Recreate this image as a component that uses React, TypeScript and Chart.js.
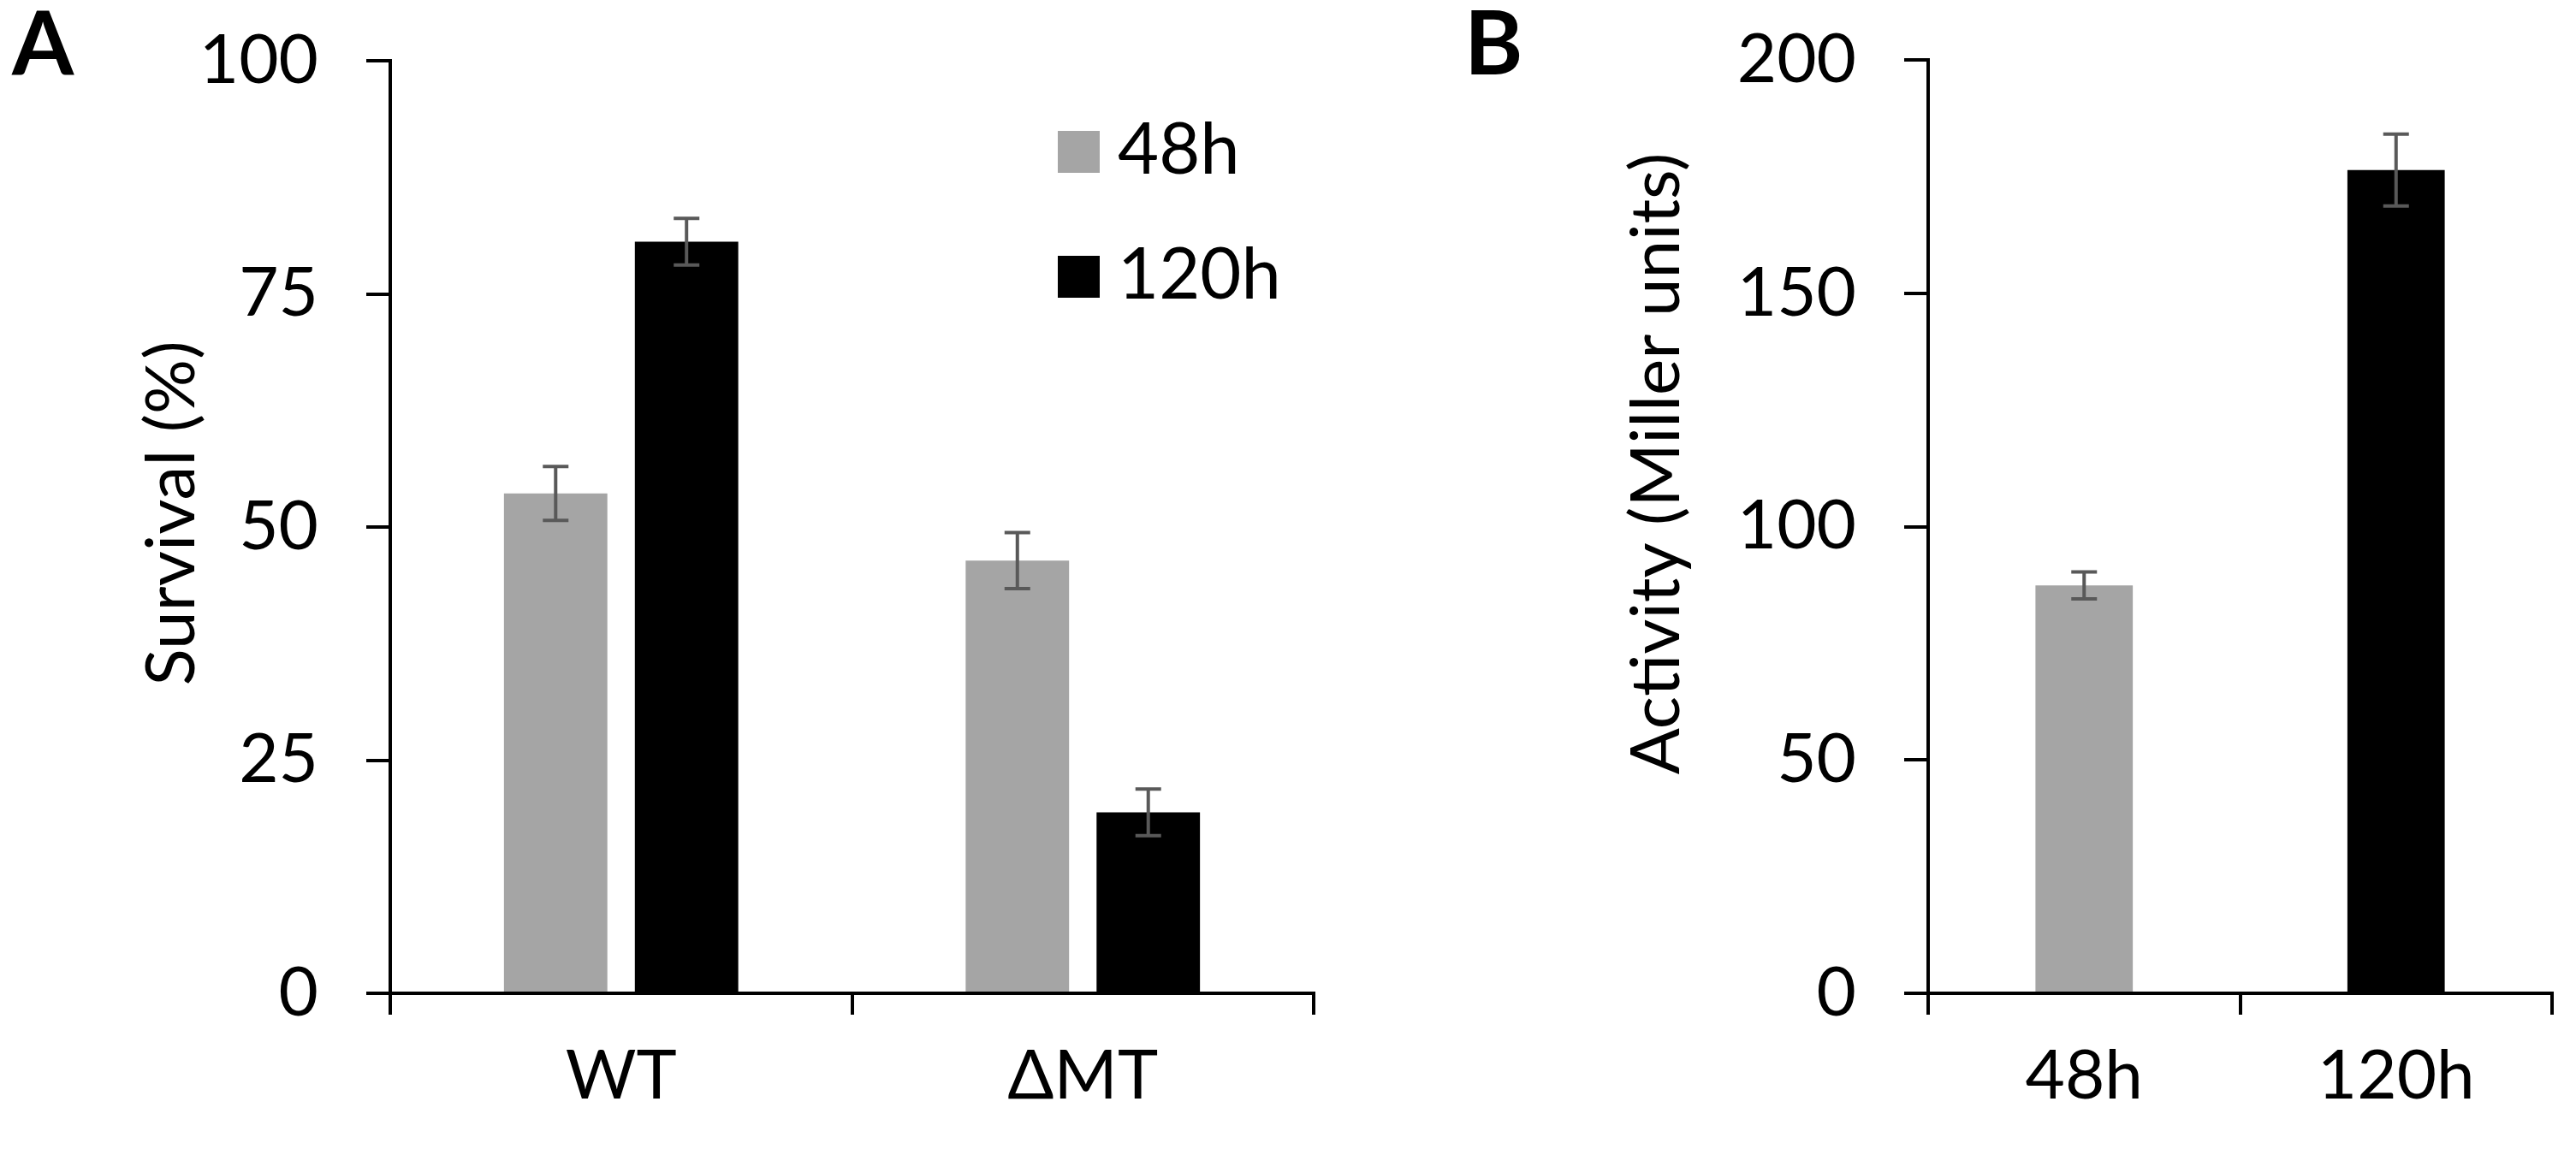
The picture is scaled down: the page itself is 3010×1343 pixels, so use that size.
import React, { useEffect, useRef } from "react";
import { Chart, registerables, Plugin } from "chart.js";

Chart.register(...registerables);

// panel A: survival
const groupLabels = ["WT", "ΔMT"];
const seriesNames = ["48h", "120h"];
const survival48 = [53.6, 46.4];
const survival120 = [80.6, 19.4];
const survival48Err = [2.9, 3.0];
const survival120Err = [2.5, 2.5];
const survivalTicks = [0, 25, 50, 75, 100];

// panel B: activity
const activityLabels = ["48h", "120h"];
const activityValues = [87.4, 176.4];
const activityErr = [2.9, 7.7];
const activityTicks = [0, 50, 100, 150, 200];

const GRAY = "#a5a5a5";
const BLACK = "#000000";
const ERR = "#595959";
const FONT = "Lato";

const errorBars: Plugin<"bar"> = {
  id: "errorBars",
  afterDatasetsDraw(chart) {
    const ctx = chart.ctx;
    const y = chart.scales.y;
    chart.data.datasets.forEach((ds: any, i) => {
      const meta = chart.getDatasetMeta(i);
      meta.data.forEach((bar: any, j) => {
        const v = ds.data[j] as number;
        const e = ds.errors[j] as number;
        const top = y.getPixelForValue(v + e);
        const bot = y.getPixelForValue(v - e);
        ctx.save();
        ctx.strokeStyle = ERR;
        ctx.lineWidth = 4;
        ctx.beginPath();
        ctx.moveTo(bar.x, top);
        ctx.lineTo(bar.x, bot);
        ctx.moveTo(bar.x - 15, top);
        ctx.lineTo(bar.x + 15, top);
        ctx.moveTo(bar.x - 15, bot);
        ctx.lineTo(bar.x + 15, bot);
        ctx.stroke();
        ctx.restore();
      });
    });
  },
};

// panel letter + rotated y title
function panelText(letter: string, letterX: number, title: string, titleX: number, titleY: number): Plugin<"bar"> {
  return {
    id: "panelText",
    afterDraw(chart) {
      const ctx = chart.ctx;
      ctx.save();
      ctx.fillStyle = "#000";
      ctx.font = `bold 104px ${FONT}`;
      ctx.textAlign = "left";
      ctx.textBaseline = "alphabetic";
      ctx.fillText(letter, letterX, 87);
      ctx.translate(titleX, titleY);
      ctx.rotate(-Math.PI / 2);
      ctx.font = `80px ${FONT}`;
      ctx.textAlign = "center";
      ctx.fillText(title, 0, 0);
      ctx.restore();
    },
  };
}

const legendA: Plugin<"bar"> = {
  id: "legendA",
  afterDraw(chart) {
    const ctx = chart.ctx;
    ctx.save();
    ctx.font = `83px ${FONT}`;
    ctx.textBaseline = "alphabetic";
    chart.data.datasets.forEach((ds: any, i) => {
      const top = 153 + i * 146;
      ctx.fillStyle = ds.backgroundColor;
      ctx.fillRect(1236, top, 49, 49);
      ctx.fillStyle = "#000";
      ctx.fillText(ds.label, 1306, top + 50);
    });
    ctx.restore();
  },
};

function axes(ticks: number[], yWidth: number) {
  return {
    x: {
      grid: { drawOnChartArea: false, color: "#000", lineWidth: 4, tickLength: 25 },
      border: { display: true, color: "#000", width: 4 },
      ticks: { color: "#000", font: { family: FONT, size: 80 }, padding: 24 },
      afterFit: (s: any) => {
        s.height = 182;
        s.paddingLeft = 0;
        s.paddingRight = 0;
      },
    },
    y: {
      min: ticks[0],
      max: ticks[ticks.length - 1],
      afterBuildTicks: (s: any) => {
        s.ticks = ticks.map((v) => ({ value: v }));
      },
      grid: { drawOnChartArea: false, color: "#000", lineWidth: 4, tickLength: 28 },
      border: { display: true, color: "#000", width: 4 },
      ticks: { color: "#000", font: { family: FONT, size: 80 }, padding: 56 },
      afterFit: (s: any) => {
        s.width = yWidth;
        s.paddingTop = 0;
        s.paddingBottom = 0;
      },
    },
  };
}

function SurvivalChart() {
  const ref = useRef<HTMLCanvasElement>(null);
  useEffect(() => {
    if (!ref.current) return;
    const chart = new Chart(ref.current, {
      type: "bar",
      data: {
        labels: groupLabels,
        datasets: [
          { label: seriesNames[0], data: survival48, backgroundColor: GRAY, errors: survival48Err } as any,
          { label: seriesNames[1], data: survival120, backgroundColor: BLACK, errors: survival120Err } as any,
        ],
      },
      options: {
        animation: false,
        responsive: true,
        maintainAspectRatio: false,
        layout: { padding: { top: 71, right: 25, left: 0, bottom: 0 } },
        datasets: { bar: { categoryPercentage: 0.567, barPercentage: 0.79 } },
        plugins: { legend: { display: false }, tooltip: { enabled: false } },
        scales: axes(survivalTicks, 456) as any,
      },
      plugins: [errorBars, legendA, panelText("A", 14, "Survival (%)", 227, 600)],
    });
    return () => chart.destroy();
  }, []);
  return (
    <div style={{ position: "absolute", left: 0, top: 0, width: 1560, height: 1343 }}>
      <canvas ref={ref} />
    </div>
  );
}

function ActivityChart() {
  const ref = useRef<HTMLCanvasElement>(null);
  useEffect(() => {
    if (!ref.current) return;
    const chart = new Chart(ref.current, {
      type: "bar",
      data: {
        labels: activityLabels,
        datasets: [
          {
            label: "Activity",
            data: activityValues,
            backgroundColor: [GRAY, BLACK],
            errors: activityErr,
          } as any,
        ],
      },
      options: {
        animation: false,
        responsive: true,
        maintainAspectRatio: false,
        layout: { padding: { top: 70, right: 28, left: 0, bottom: 0 } },
        datasets: { bar: { categoryPercentage: 1, barPercentage: 0.312 } },
        plugins: { legend: { display: false }, tooltip: { enabled: false } },
        scales: axes(activityTicks, 653) as any,
      },
      plugins: [errorBars, panelText("B", 111, "Activity (Miller units)", 362, 542)],
    });
    return () => chart.destroy();
  }, []);
  return (
    <div style={{ position: "absolute", left: 1600, top: 0, width: 1410, height: 1343 }}>
      <canvas ref={ref} />
    </div>
  );
}

export default function App() {
  return (
    <div style={{ position: "absolute", left: 0, top: 0, width: 3010, height: 1343, background: "#fff" }}>
      <SurvivalChart />
      <ActivityChart />
    </div>
  );
}
